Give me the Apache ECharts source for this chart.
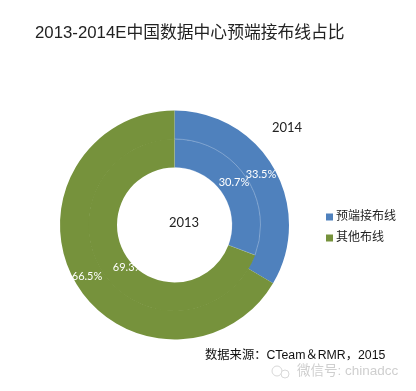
<!DOCTYPE html>
<html>
<head>
<meta charset="utf-8">
<style>html,body{margin:0;padding:0;background:#fff}#c{width:416px;height:391px}</style>
<script src="https://cdn.jsdelivr.net/npm/echarts@6/dist/echarts.min.js"></script>
</head>
<body>
<div id="c"></div>
<script>
const categories = ['预端接布线', '其他布线'];
const values2013 = [30.7, 69.3];
const values2014 = [33.5, 66.5];
const chartTitle = '2013-2014E中国数据中心预端接布线占比';
const sourceText = '数据来源：CTeam＆RMR，2015';
const watermarkText = '微信号: chinadcc';
const colors = ['#4f81bd', '#76923c'];
const cjk = '"Liberation Sans","Noto Sans CJK SC",sans-serif';
const latin = 'Lato,"Noto Sans CJK SC",sans-serif';

function toData(vals, edge) {
  return categories.map((n, i) => ({
    name: n, value: vals[i],
    itemStyle: i === 0 && edge ? { borderColor: 'rgba(255,255,255,0.45)', borderWidth: 0.6 } : { borderWidth: 0 }
  }));
}
function ring(name, vals, radius, nudges, edge, z) {
  return {
    type: 'pie', name, center: [174.5, 225], radius, startAngle: 90, clockwise: true,
    silent: true, animation: false, z,
    label: {
      position: 'inside', color: '#fff', fontSize: 11, fontFamily: latin,
      formatter: p => p.value.toFixed(1) + '%'
    },
    labelLine: { show: false },
    labelLayout: p => ({ dx: nudges[p.dataIndex] }),
    data: toData(vals, edge)
  };
}
const chart = echarts.init(document.getElementById('c'), null, { renderer: 'canvas' });
chart.setOption({
  backgroundColor: '#fff',
  color: colors,
  title: [{
    text: chartTitle, left: 30, top: 20,
    textStyle: { fontFamily: cjk, fontSize: 16.8, fontWeight: 'normal', color: '#222' }
  }],
  legend: {
    orient: 'vertical', left: 321, top: 206, icon: 'rect', itemWidth: 7, itemHeight: 7,
    itemGap: 9, textStyle: { fontFamily: cjk, fontSize: 12, color: '#222', padding: [0, 0, 0, -2] },
    data: categories
  },
  series: [
    ring('2014', values2014, [85.5, 114.5], [-3, 2], false, 2),
    ring('2013', values2013, [57.5, 86], [-2, 15], true, 3)
  ],
  graphic: [
    { type: 'text', left: 169, top: 216, style: { text: '2013', font: '13px ' + latin, fill: '#222' } },
    { type: 'text', left: 272, top: 121, style: { text: '2014', font: '13px ' + latin, fill: '#222' } },
    { type: 'text', left: 205, top: 349, style: { text: sourceText, font: '12.3px ' + cjk, fill: '#111' } },
    { type: 'text', left: 297, top: 365, style: { text: watermarkText, font: '13.5px ' + cjk, fill: '#cfcfcf' } },
    { type: 'circle', shape: { cx: 277, cy: 371, r: 5 }, style: { fill: 'none', stroke: '#d8d8d8', lineWidth: 1 } },
    { type: 'circle', shape: { cx: 285, cy: 374, r: 4 }, style: { fill: '#fff', stroke: '#d8d8d8', lineWidth: 1 } }
  ]
});
</script>
</body>
</html>
